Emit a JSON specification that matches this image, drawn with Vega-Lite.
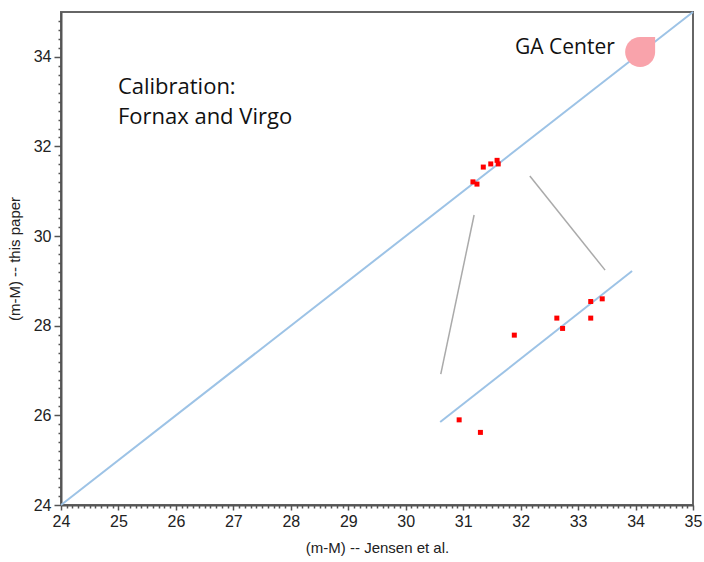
{
  "$schema": "https://vega.github.io/schema/vega-lite/v6.json",
  "width": 632,
  "height": 493,
  "autosize": {"type": "none"},
  "padding": {"left": 61, "top": 12, "right": 11, "bottom": 57},
  "background": "white",
  "config": {
    "view": {"stroke": "#666", "strokeWidth": 2},
    "font": "Liberation Sans"
  },
  "datasets": {
    "lines": [
      {"line": "diagonal", "x": 24, "y": 24},
      {"line": "diagonal", "x": 35, "y": 35},
      {"line": "inset", "x": 30.6, "y": 25.85},
      {"line": "inset", "x": 33.94, "y": 29.22}
    ],
    "connectors": [
      {"line": "left", "x": 30.61, "y": 26.92},
      {"line": "left", "x": 31.19, "y": 30.47},
      {"line": "right", "x": 32.16, "y": 31.34},
      {"line": "right", "x": 33.47, "y": 29.24}
    ],
    "points": [
      {"set": "main", "x": 31.17, "y": 31.21},
      {"set": "main", "x": 31.24, "y": 31.16},
      {"set": "main", "x": 31.35, "y": 31.54},
      {"set": "main", "x": 31.48, "y": 31.61},
      {"set": "main", "x": 31.59, "y": 31.69},
      {"set": "main", "x": 31.61, "y": 31.61},
      {"set": "inset", "x": 30.93, "y": 25.9},
      {"set": "inset", "x": 31.3, "y": 25.62},
      {"set": "inset", "x": 31.89, "y": 27.79},
      {"set": "inset", "x": 32.63, "y": 28.17},
      {"set": "inset", "x": 32.73, "y": 27.94},
      {"set": "inset", "x": 33.22, "y": 28.54},
      {"set": "inset", "x": 33.22, "y": 28.17},
      {"set": "inset", "x": 33.42, "y": 28.6}
    ],
    "center": [{"label": "GA Center", "x": 34.08, "y": 34.11}],
    "labels": [
      {"label": "Calibration:", "x": 24.99, "y": 33.33},
      {"label": "Fornax and Virgo", "x": 24.99, "y": 32.66}
    ],
    "rlabels": [
      {"label": "GA Center", "x": 33.64, "y": 34.2}
    ]
  },
  "encoding": {
    "x": {
      "field": "x", "type": "quantitative",
      "scale": {"domain": [24, 35], "nice": false, "zero": false},
      "axis": {
        "title": "(m-M) -- Jensen et al.",
        "titleFont": "Liberation Sans", "titleFontSize": 15, "titleFontWeight": "normal", "titleColor": "#222",
        "titlePadding": 11,
        "values": [24,24.1,24.2,24.3,24.4,24.5,24.6,24.7,24.8,24.9,25,25.1,25.2,25.3,25.4,25.5,25.6,25.7,25.8,25.9,26,26.1,26.2,26.3,26.4,26.5,26.6,26.7,26.8,26.9,27,27.1,27.2,27.3,27.4,27.5,27.6,27.7,27.8,27.9,28,28.1,28.2,28.3,28.4,28.5,28.6,28.7,28.8,28.9,29,29.1,29.2,29.3,29.4,29.5,29.6,29.7,29.8,29.9,30,30.1,30.2,30.3,30.4,30.5,30.6,30.7,30.8,30.9,31,31.1,31.2,31.3,31.4,31.5,31.6,31.7,31.8,31.9,32,32.1,32.2,32.3,32.4,32.5,32.6,32.7,32.8,32.9,33,33.1,33.2,33.3,33.4,33.5,33.6,33.7,33.8,33.9,34,34.1,34.2,34.3,34.4,34.5,34.6,34.7,34.8,34.9,35],
        "labelExpr": "abs(datum.value - round(datum.value)) < 0.01 ? format(datum.value, 'd') : ''",
        "labelFontSize": 16, "labelColor": "#222", "labelPadding": 3, "labelFlush": false, "labelOverlap": false,
        "domainColor": "#555", "domainWidth": 2,
        "tickColor": "#555", "tickWidth": 1.5,
        "tickSize": {"condition": {"test": "abs(datum.value - round(datum.value)) < 0.01", "value": 5}, "value": 3},
        "grid": false
      }
    },
    "y": {
      "field": "y", "type": "quantitative",
      "scale": {"domain": [24, 35], "nice": false, "zero": false},
      "axis": {
        "title": "(m-M)  -- this paper",
        "titleFont": "Liberation Sans", "titleFontSize": 15, "titleFontWeight": "normal", "titleColor": "#222",
        "titlePadding": 11,
        "values": [24,24.2,24.4,24.6,24.8,25,25.2,25.4,25.6,25.8,26,26.2,26.4,26.6,26.8,27,27.2,27.4,27.6,27.8,28,28.2,28.4,28.6,28.8,29,29.2,29.4,29.6,29.8,30,30.2,30.4,30.6,30.8,31,31.2,31.4,31.6,31.8,32,32.2,32.4,32.6,32.8,33,33.2,33.4,33.6,33.8,34,34.2,34.4,34.6,34.8],
        "labelExpr": "abs(datum.value/2 - round(datum.value/2)) < 0.01 ? format(datum.value, 'd') : ''",
        "labelFontSize": 16, "labelColor": "#222", "labelPadding": 3, "labelFlush": false, "labelOverlap": false,
        "domainColor": "#555", "domainWidth": 2,
        "tickColor": "#555", "tickWidth": 1.5,
        "tickSize": {"condition": {"test": "abs(datum.value/2 - round(datum.value/2)) < 0.01", "value": 7}, "value": 3},
        "grid": false
      }
    }
  },
  "layer": [
    {
      "data": {"name": "lines"},
      "mark": {"type": "line", "color": "#9DC3E6", "strokeWidth": 2},
      "encoding": {"detail": {"field": "line"}}
    },
    {
      "data": {"name": "connectors"},
      "mark": {"type": "line", "color": "#AAAAAA", "strokeWidth": 1.5},
      "encoding": {"detail": {"field": "line"}}
    },
    {
      "data": {"name": "points"},
      "mark": {"type": "point", "shape": "square", "filled": true, "color": "#FF0000", "size": 25, "opacity": 1}
    },
    {
      "data": {"name": "center"},
      "mark": {"type": "point", "shape": "M-1,0 A1,1 0 0,1 0,-1 L1,-1 L1,0 A1,1 0 0,1 -1,0 Z", "filled": true, "color": "#F9A3AB", "size": 900, "opacity": 1}
    },
    {
      "data": {"name": "labels"},
      "mark": {"type": "text", "fontSize": 22, "font": "Open Sans", "color": "#111", "align": "left", "baseline": "middle"},
      "encoding": {"text": {"field": "label"}}
    },
    {
      "data": {"name": "rlabels"},
      "mark": {"type": "text", "fontSize": 21, "font": "Open Sans", "color": "#111", "align": "right", "baseline": "middle"},
      "encoding": {"text": {"field": "label"}}
    }
  ]
}
